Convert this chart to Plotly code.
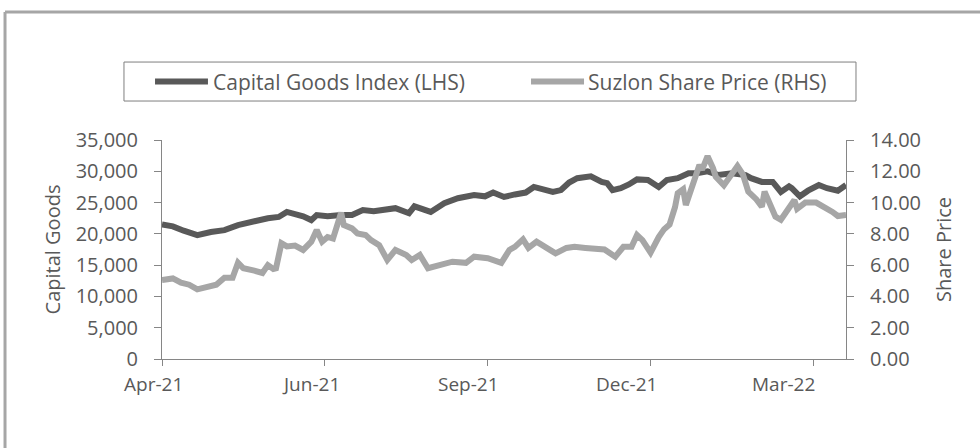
import plotly.graph_objects as go

# trading-day index (0 = 1 Apr 2021) and readings
cg_day = [0, 4, 8, 13, 18, 23, 28, 33, 39, 43, 46, 52, 55, 57, 61, 66, 70, 74, 78, 86,
          91, 93, 99, 104, 109, 115, 119, 122, 126, 130, 134, 137, 141, 144, 147, 150,
          153, 158, 162, 164, 166, 169, 172, 175, 179, 183, 186, 190, 194, 197, 201,
          205, 210, 215, 217, 221, 225, 228, 231, 232, 235, 238, 242, 245, 249, 252]
cg_index = [21500, 21200, 20500, 19800, 20300, 20600, 21400, 22000, 22500, 22700,
            23500, 22800, 22200, 23000, 22800, 23000, 23000, 23800, 23600, 24100,
            23300, 24400, 23500, 24900, 25700, 26200, 26000, 26600, 25900, 26300,
            26600, 27500, 27000, 26700, 27000, 28200, 28900, 29200, 28300, 28100,
            27000, 27300, 27900, 28700, 28600, 27500, 28600, 28900, 29700, 29700,
            30000, 29400, 29700, 29400, 28900, 28300, 28300, 26700, 27600, 27300,
            26000, 26900, 27800, 27300, 26900, 27800]

sz_day = [0, 4, 7, 10, 13, 17, 20, 23, 26, 28, 30, 34, 37, 39, 41, 42, 44, 46, 49, 52,
          55, 57, 59, 61, 63, 66, 67, 70, 72, 75, 77, 80, 83, 86, 90, 92, 95, 98, 102,
          107, 112, 115, 120, 125, 128, 130, 133, 135, 138, 141, 145, 149, 152, 156,
          160, 163, 167, 170, 173, 175, 177, 180, 183, 185, 187, 189, 190, 192, 193,
          195, 197, 198, 199, 201, 203, 204, 207, 209, 212, 214, 216, 219, 221, 222,
          224, 226, 228, 230, 233, 234, 237, 241, 244, 247, 249, 252]
sz_price = [5.05, 5.15, 4.88, 4.75, 4.45, 4.6, 4.75, 5.2, 5.2, 6.15, 5.8, 5.65, 5.5,
            6.0, 5.75, 5.8, 7.4, 7.2, 7.25, 6.97, 7.5, 8.24, 7.5, 7.8, 7.7, 9.35, 8.56,
            8.35, 8.03, 7.93, 7.6, 7.28, 6.33, 6.97, 6.65, 6.33, 6.65, 5.8, 6.0, 6.22,
            6.15, 6.54, 6.44, 6.15, 6.97, 7.17, 7.65, 7.1, 7.5, 7.15, 6.75, 7.1, 7.17,
            7.1, 7.0, 7.0, 6.54, 7.17, 7.17, 7.92, 7.6, 6.8, 7.8, 8.3, 8.6, 9.7, 10.6,
            10.85, 9.84, 10.8, 11.65, 12.4, 12.1, 12.97, 12.2, 11.65, 11.1, 11.65,
            12.33, 11.8, 10.7, 10.2, 9.73, 10.7, 9.8, 9.1, 8.9, 9.4, 10.16, 9.6, 10.0,
            10.0, 9.73, 9.4, 9.14, 9.2]

tick_days = [0, 60, 120, 180, 240]
label_days = [-3, 55, 113, 171, 229]
month_labels = ["Apr-21", "Jun-21", "Sep-21", "Dec-21", "Mar-22"]
series_names = ["Capital Goods Index (LHS)", "Suzlon Share Price (RHS)"]
series_colors = ["#595959", "#A6A6A6"]

FONT = "Open Sans"
TXT = "#595959"
AX = "#868686"
DAYS = 252

fig = go.Figure()
fig.add_trace(
    go.Scatter(
        x=cg_day, y=cg_index, mode="lines", name=series_names[0],
        line=dict(color=series_colors[0], width=6), showlegend=False,
    )
)
fig.add_trace(
    go.Scatter(
        x=sz_day, y=sz_price, mode="lines", name=series_names[1],
        line=dict(color=series_colors[1], width=6), yaxis="y2", showlegend=False,
    )
)

annotations = []
# month labels under the axis
for d, t in zip(label_days, month_labels):
    annotations.append(
        dict(
            xref="paper", yref="paper", x=d / DAYS, y=-0.112, xanchor="center",
            yanchor="middle", text=t, showarrow=False,
            font=dict(family=FONT, size=19, color=TXT),
        )
    )

# hand-drawn legend box (paper coords)
shapes = [
    dict(type="rect", xref="paper", yref="paper", x0=-0.0556, x1=1.0146,
         y0=1.178, y1=1.356, line=dict(color="#7F7F7F", width=1)),
]
for (sx0, sx1, tx), name, col in zip(
    [(-0.0102, 0.0672, 0.0716), (0.5395, 0.6170, 0.6199)], series_names, series_colors
):
    shapes.append(
        dict(type="line", xref="paper", yref="paper", x0=sx0, x1=sx1, y0=1.267,
             y1=1.267, line=dict(color=col, width=6))
    )
    annotations.append(
        dict(
            xref="paper", yref="paper", x=tx, y=1.267, xanchor="left",
            yanchor="middle", text=name, showarrow=False,
            font=dict(family=FONT, size=21, color=TXT),
        )
    )

# outer frame (left + top edges)
shapes += [
    dict(type="line", xref="paper", yref="paper", x0=-0.2295, x1=1.3, y0=1.584,
         y1=1.584, line=dict(color="#A6A6A6", width=3)),
    dict(type="line", xref="paper", yref="paper", x0=-0.2295, x1=-0.2295,
         y0=1.584, y1=-0.5, line=dict(color="#A6A6A6", width=3)),
]

fig.update_layout(
    width=980,
    height=448,
    autosize=False,
    paper_bgcolor="white",
    plot_bgcolor="white",
    margin=dict(l=162, r=134, t=140, b=89, pad=0),
    font=dict(family=FONT, size=20, color=TXT),
    showlegend=False,
    xaxis=dict(
        range=[0, DAYS], tickvals=tick_days, showticklabels=False, ticks="outside",
        ticklen=6, tickcolor=AX, showline=True, linecolor=AX, linewidth=1,
        showgrid=False, zeroline=False,
    ),
    yaxis=dict(
        range=[0, 35000], dtick=5000, tickformat=",", ticks="outside", ticklen=7,
        tickcolor=AX, showline=True, linecolor=AX, linewidth=1, showgrid=False,
        zeroline=False, ticklabelstandoff=12,
        title=dict(text="Capital Goods", font=dict(size=20, color=TXT), standoff=9),
    ),
    yaxis2=dict(
        range=[0, 14], dtick=2, tickformat=".2f", overlaying="y", side="right",
        ticks="outside", ticklen=7, tickcolor=AX, showline=True, linecolor=AX,
        linewidth=1, showgrid=False, zeroline=False, ticklabelstandoff=12,
        title=dict(text="Share Price", font=dict(size=20, color=TXT), standoff=16),
    ),
    annotations=annotations,
    shapes=shapes,
)

fig.write_html(
    "out.html",
    config={"displayModeBar": False},
    post_script="document.body.style.margin='0px';",
)
